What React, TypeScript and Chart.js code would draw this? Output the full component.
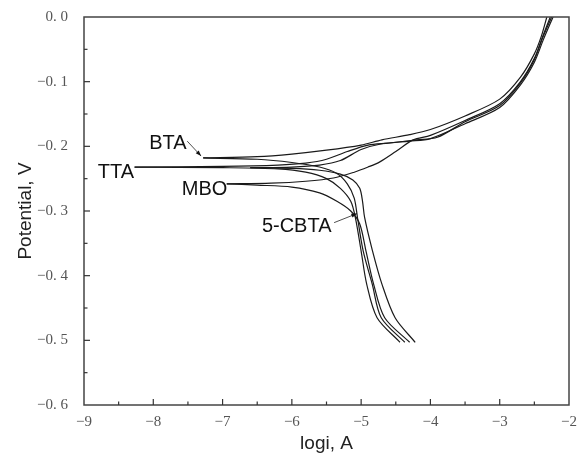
import React, { useEffect, useRef } from "react";
import { Chart, registerables } from "chart.js";
Chart.register(...registerables);

// ---- Data (logi in A, potential in V) ----
const xTickValues = [-9, -8, -7, -6, -5, -4, -3, -2];
const yTickValues = [0, -0.1, -0.2, -0.3, -0.4, -0.5, -0.6];

// BTA
const btaCathX = [-7.28, -6.5, -6.0, -5.6, -5.35, -5.2, -5.1, -5.05, -4.97, -4.84, -4.71, -4.37];
const btaCathY = [-0.218, -0.22, -0.225, -0.232, -0.242, -0.258, -0.28, -0.312, -0.362, -0.413, -0.465, -0.503];
const btaAnoX = [-7.28, -6.5, -6.0, -5.5, -5.0, -4.7, -4.3, -4.0, -3.5, -3.0, -2.7, -2.5, -2.4, -2.32];
const btaAnoY = [-0.218, -0.216, -0.212, -0.206, -0.198, -0.19, -0.182, -0.174, -0.153, -0.127, -0.093, -0.057, -0.03, 0.0];

// TTA
const ttaCathX = [-8.27, -7.0, -6.2, -5.8, -5.5, -5.3, -5.15, -5.08, -5.0, -4.92, -4.77, -4.44];
const ttaCathY = [-0.232, -0.233, -0.235, -0.24, -0.25, -0.265, -0.285, -0.312, -0.362, -0.413, -0.465, -0.503];
const ttaAnoX = [-8.27, -7.0, -6.2, -5.8, -5.5, -5.2, -4.9, -4.6, -4.2, -3.9, -3.5, -3.0, -2.7, -2.5, -2.38, -2.25];
const ttaAnoY = [-0.232, -0.231, -0.229, -0.226, -0.22, -0.208, -0.198, -0.195, -0.19, -0.186, -0.162, -0.137, -0.102, -0.066, -0.032, 0.0];

// MBO
const mboCathX = [-6.94, -6.5, -6.0, -5.6, -5.35, -5.15, -5.02, -4.93, -4.82, -4.66, -4.3];
const mboCathY = [-0.258, -0.26, -0.263, -0.272, -0.285, -0.3, -0.32, -0.362, -0.413, -0.465, -0.503];
const mboAnoX = [-6.94, -6.3, -5.8, -5.4, -5.1, -4.9, -4.73, -4.5, -4.25, -4.0, -3.5, -3.0, -2.7, -2.5, -2.38, -2.27];
const mboAnoY = [-0.258, -0.257, -0.254, -0.249, -0.24, -0.232, -0.224, -0.208, -0.19, -0.183, -0.16, -0.134, -0.1, -0.064, -0.03, 0.0];

// 5-CBTA
const cbtaCathX = [-6.6, -6.0, -5.6, -5.3, -5.12, -5.02, -4.98, -4.95, -4.84, -4.7, -4.51, -4.22];
const cbtaCathY = [-0.233, -0.234, -0.237, -0.243, -0.252, -0.265, -0.285, -0.31, -0.36, -0.413, -0.465, -0.503];
const cbtaAnoX = [-6.6, -6.0, -5.6, -5.3, -5.0, -4.7, -4.3, -4.0, -3.5, -3.0, -2.7, -2.5, -2.37, -2.23];
const cbtaAnoY = [-0.233, -0.232, -0.229, -0.222, -0.205, -0.196, -0.192, -0.188, -0.165, -0.14, -0.105, -0.07, -0.035, 0.0];

// Annotation labels (data coords) and leader lines
const labelNames = ["BTA", "TTA", "MBO", "5-CBTA"];
const labelX = [-7.79, -8.54, -7.26, -5.93];
const labelY = [-0.195, -0.241, -0.267, -0.324];
const leaderFromX = [-7.51, null, null, -5.39];
const leaderFromY = [-0.192, null, null, -0.318];
const leaderToX = [-7.31, null, null, -5.06];
const leaderToY = [-0.215, null, null, -0.304];

const pts = (xs: number[], ys: number[]) => xs.map((x, i) => ({ x, y: ys[i] }));

const fmtY = (v: number) => {
  const s = Math.abs(v).toFixed(1).replace(".", ". ");
  return (v < -1e-9 ? "\u2212" : "") + s;
};
const fmtX = (v: number) => (v < 0 ? "\u2212" : "") + Math.abs(Math.round(v));

const decorPlugin = {
  id: "decor",
  afterDraw(chart: any) {
    const ctx = chart.ctx;
    const { left, right, top, bottom } = chart.chartArea;
    const xs = chart.scales.x;
    const ys = chart.scales.y;
    ctx.save();
    // frame
    ctx.strokeStyle = "#444";
    ctx.lineWidth = 1.5;
    ctx.strokeRect(left, top, right - left, bottom - top);
    // inward ticks
    ctx.lineWidth = 1.2;
    ctx.strokeStyle = "#333";
    for (let i = 1; i < 14; i++) {
      const v = -9 + i * 0.5;
      const px = xs.getPixelForValue(v);
      const len = i % 2 === 0 ? 6 : 3.5;
      ctx.beginPath();
      ctx.moveTo(px, bottom);
      ctx.lineTo(px, bottom - len);
      ctx.stroke();
    }
    for (let i = 1; i < 12; i++) {
      const v = -0.6 + i * 0.05;
      const py = ys.getPixelForValue(v);
      const len = i % 2 === 0 ? 6 : 3.5;
      ctx.beginPath();
      ctx.moveTo(left, py);
      ctx.lineTo(left + len, py);
      ctx.stroke();
    }
    // annotations
    ctx.fillStyle = "#111";
    ctx.font = "20px 'Liberation Sans', Arial, sans-serif";
    ctx.textAlign = "center";
    ctx.textBaseline = "middle";
    labelNames.forEach((name, i) => {
      ctx.fillText(name, xs.getPixelForValue(labelX[i]), ys.getPixelForValue(labelY[i]));
      const fx = leaderFromX[i];
      if (fx !== null) {
        const x1 = xs.getPixelForValue(fx);
        const y1 = ys.getPixelForValue(leaderFromY[i] as number);
        const x2 = xs.getPixelForValue(leaderToX[i] as number);
        const y2 = ys.getPixelForValue(leaderToY[i] as number);
        ctx.strokeStyle = "#222";
        ctx.lineWidth = 0.8;
        ctx.beginPath();
        ctx.moveTo(x1, y1);
        ctx.lineTo(x2, y2);
        ctx.stroke();
        const ang = Math.atan2(y2 - y1, x2 - x1);
        const ah = 6;
        ctx.beginPath();
        ctx.moveTo(x2, y2);
        ctx.lineTo(x2 - ah * Math.cos(ang - 0.35), y2 - ah * Math.sin(ang - 0.35));
        ctx.lineTo(x2 - ah * Math.cos(ang + 0.35), y2 - ah * Math.sin(ang + 0.35));
        ctx.closePath();
        ctx.fill();
      }
    });
    // axis titles
    ctx.fillStyle = "#222";
    ctx.font = "19px 'Liberation Sans', Arial, sans-serif";
    ctx.fillText("logi, A", (left + right) / 2, 444);
    ctx.save();
    ctx.translate(26, (top + bottom) / 2);
    ctx.rotate(-Math.PI / 2);
    ctx.fillText("Potential, V", 0, 0);
    ctx.restore();
    ctx.restore();
  },
};

export default function App() {
  const ref = useRef<HTMLCanvasElement | null>(null);
  useEffect(() => {
    if (!ref.current) return;
    const line = { showLine: true, pointRadius: 0, borderColor: "#1a1a1a", borderWidth: 1.2, tension: 0.3, fill: false };
    const chart = new Chart(ref.current, {
      type: "scatter",
      data: {
        datasets: [
          { label: "BTA", data: pts(btaCathX, btaCathY), ...line },
          { label: "BTA a", data: pts(btaAnoX, btaAnoY), ...line },
          { label: "TTA", data: pts(ttaCathX, ttaCathY), ...line },
          { label: "TTA a", data: pts(ttaAnoX, ttaAnoY), ...line },
          { label: "MBO", data: pts(mboCathX, mboCathY), ...line },
          { label: "MBO a", data: pts(mboAnoX, mboAnoY), ...line },
          { label: "5-CBTA", data: pts(cbtaCathX, cbtaCathY), ...line },
          { label: "5-CBTA a", data: pts(cbtaAnoX, cbtaAnoY), ...line },
        ],
      } as any,
      options: {
        responsive: false,
        animation: false,
        layout: { padding: { top: 13, right: 13, left: 0, bottom: 0 } },
        plugins: { legend: { display: false }, tooltip: { enabled: false } },
        scales: {
          x: {
            type: "linear",
            min: -9,
            max: -2,
            afterBuildTicks: (s: any) => { s.ticks = xTickValues.map((v) => ({ value: v })); },
            afterFit: (s: any) => { s.height = 59; },
            ticks: {
              callback: (v: any) => fmtX(Number(v)),
              font: { family: "'Liberation Serif', serif", size: 15 },
              color: "#555",
              padding: 0,
              maxRotation: 0,
            },
            grid: { display: false },
            border: { display: false },
          },
          y: {
            type: "linear",
            min: -0.6,
            max: 0,
            afterBuildTicks: (s: any) => { s.ticks = yTickValues.map((v) => ({ value: v })); },
            afterFit: (s: any) => { s.width = 84; },
            ticks: {
              callback: (v: any) => fmtY(Number(v)),
              font: { family: "'Liberation Serif', serif", size: 15 },
              color: "#555",
              padding: 8,
            },
            grid: { display: false },
            border: { display: false },
          },
        },
      } as any,
      plugins: [decorPlugin],
    });
    return () => chart.destroy();
  }, []);
  return (
    <div style={{ position: "absolute", left: 0, top: 0, width: 582, height: 464, background: "#fff" }}>
      <canvas ref={ref} width={582} height={464} />
    </div>
  );
}
